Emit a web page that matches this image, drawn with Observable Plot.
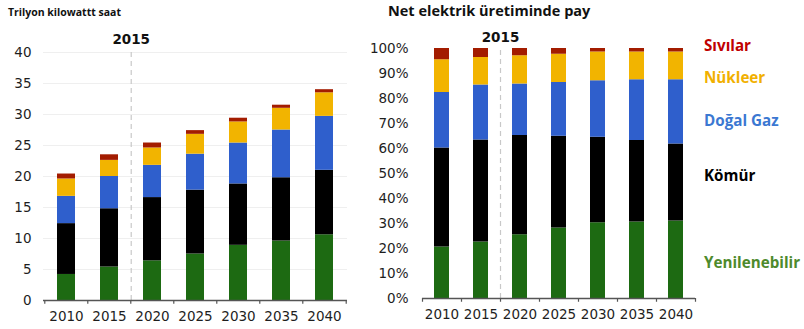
<!DOCTYPE html>
<html><head><meta charset="utf-8">
<script src="https://cdn.jsdelivr.net/npm/d3@7"></script>
<script src="https://cdn.jsdelivr.net/npm/@observablehq/plot@0.6"></script>
<style>
body{margin:0;background:#fff;}
#wrap{position:relative;width:804px;height:329px;overflow:hidden;background:#fff;}
.lab{position:absolute;white-space:nowrap;transform:translateY(-50%);line-height:1.3;font-family:"Open Sans",sans-serif;font-weight:bold;}
</style></head>
<body><div id="wrap"></div>
<script>
// ---- data ----
const years = ["2010","2015","2020","2025","2030","2035","2040"];
const fuels = ["Yenilenebilir","Kömür","Doğal Gaz","Nükleer","Sıvılar"];
const barColors = ["#1d6a12","#000000","#2f5fcc","#f2b400","#a31c00"];
const labelColors = ["#4e8a2c","#000000","#3b78d2","#f1b000","#c00000"];

// Net generation, trillion kWh (segment sizes)
const genRenew   = [4.2, 5.4, 6.4, 7.5, 8.9, 9.6, 10.6];
const genCoal    = [8.2, 9.4, 10.2, 10.3, 9.9, 10.2, 10.4];
const genGas     = [4.4, 5.2, 5.2, 5.8, 6.6, 7.7, 8.7];
const genNuclear = [2.8, 2.6, 2.8, 3.2, 3.4, 3.5, 3.8];
const genLiquids = [0.8, 0.9, 0.8, 0.6, 0.6, 0.5, 0.5];

// Share of net generation, % (segment sizes)
const shRenew   = [20.6, 22.6, 25.5, 28.2, 30.3, 30.6, 31.0];
const shCoal    = [39.6, 40.8, 39.7, 36.7, 34.2, 32.6, 30.8];
const shGas     = [22.2, 22.0, 20.6, 21.5, 22.6, 24.3, 25.7];
const shNuclear = [13.1, 11.0, 11.3, 11.3, 11.5, 11.1, 11.1];
const shLiquids = [4.5, 3.6, 2.9, 2.3, 1.4, 1.4, 1.4];

const leftTicks = [0,5,10,15,20,25,30,35,40];
const rightTicks = [0,10,20,30,40,50,60,70,80,90,100];
const markerYear = "2015";

const leftTitle = "Trilyon kilowattt saat";
const rightTitle = "Net elektrik üretiminde pay";

function toTable(series) {
  const rows = [];
  years.forEach((yr, i) => series.forEach((s, k) => rows.push({year: yr, fuel: fuels[k], value: s[i]})));
  return rows;
}
const genTable = toTable([genRenew, genCoal, genGas, genNuclear, genLiquids]);
const shTable = toTable([shRenew, shCoal, shGas, shNuclear, shLiquids]);

const wrap = document.getElementById("wrap");

function panel(o) {
  const step = (o.width - o.ml - o.mr) / years.length;
  const pi = o.padIn;
  const marks = [];
  if (o.grid) marks.push(Plot.ruleY(o.ticks.filter(t => t > 0), {stroke: "#efefef", strokeWidth: 1}));
  marks.push(
    Plot.ruleX([markerYear], {x: d => d, dx: step / 2, y1: 0, y2: o.yDomain[1], stroke: "#c8c8c8", strokeDasharray: "5,4", strokeWidth: 1.2}),
    Plot.barY(o.data, {x: "year", y: "value", fill: "fuel"}),
    Plot.ruleY([0], {stroke: "#555", strokeWidth: 1.5}),
    Plot.ruleX(years, {x: d => d, dx: -step / 2, y1: 0, y2: o.tickLen, stroke: "#555", strokeWidth: 1.2}),
    Plot.ruleX([years[years.length - 1]], {x: d => d, dx: step / 2, y1: 0, y2: o.tickLen, stroke: "#555", strokeWidth: 1.2}),
    Plot.text([markerYear], {x: d => d, dx: step / 2, y: o.markerY, text: d => d, fontWeight: "bold", fontSize: 13.5, fill: "#111"})
  );
  const svg = Plot.plot({
    width: o.width, height: 329,
    marginLeft: o.ml, marginRight: o.mr, marginTop: o.mt, marginBottom: o.mb,
    style: {fontFamily: "DejaVu Sans, sans-serif", fontSize: "13.5px", color: "#1e1e1e", background: "transparent", overflow: "visible"},
    x: {domain: years, paddingInner: pi, paddingOuter: pi / 2, tickSize: 0, tickPadding: 11, label: null},
    y: {domain: o.yDomain, ticks: o.ticks, tickSize: 0, tickPadding: o.ytp, tickFormat: o.tickFormat, label: null},
    color: {domain: fuels, range: barColors},
    marks
  });
  svg.style.position = "absolute";
  svg.style.left = o.left + "px";
  svg.style.top = "0px";
  wrap.appendChild(svg);
}

panel({data: genTable, left: 0, width: 355, ml: 43, mr: 8, mt: 52, mb: 29,
  yDomain: [0, 40], ticks: leftTicks, tickFormat: d => String(d), padIn: 0.57, ytp: 12,
  grid: true, tickLen: -0.6, markerY: 42});

panel({data: shTable, left: 360, width: 444, ml: 62, mr: 109, mt: 48, mb: 31,
  yDomain: [0, 100], ticks: rightTicks, tickFormat: d => d + "%", padIn: 0.615, ytp: 14,
  grid: false, tickLen: -1.5, markerY: 104.5});

function label(text, x, y, size, color) {
  const d = document.createElement("div");
  d.className = "lab";
  d.textContent = text;
  d.style.left = x + "px";
  d.style.top = y + "px";
  d.style.fontSize = size + "px";
  d.style.color = color;
  wrap.appendChild(d);
}
label(leftTitle, 8, 12.5, 10.5, "#111");
label(rightTitle, 388, 11, 14.5, "#111");
const legendY = [263, 176, 121, 78, 46];
fuels.forEach((f, k) => label(f, 704, legendY[k], 15.2, labelColors[k]));
</script>
</body></html>
